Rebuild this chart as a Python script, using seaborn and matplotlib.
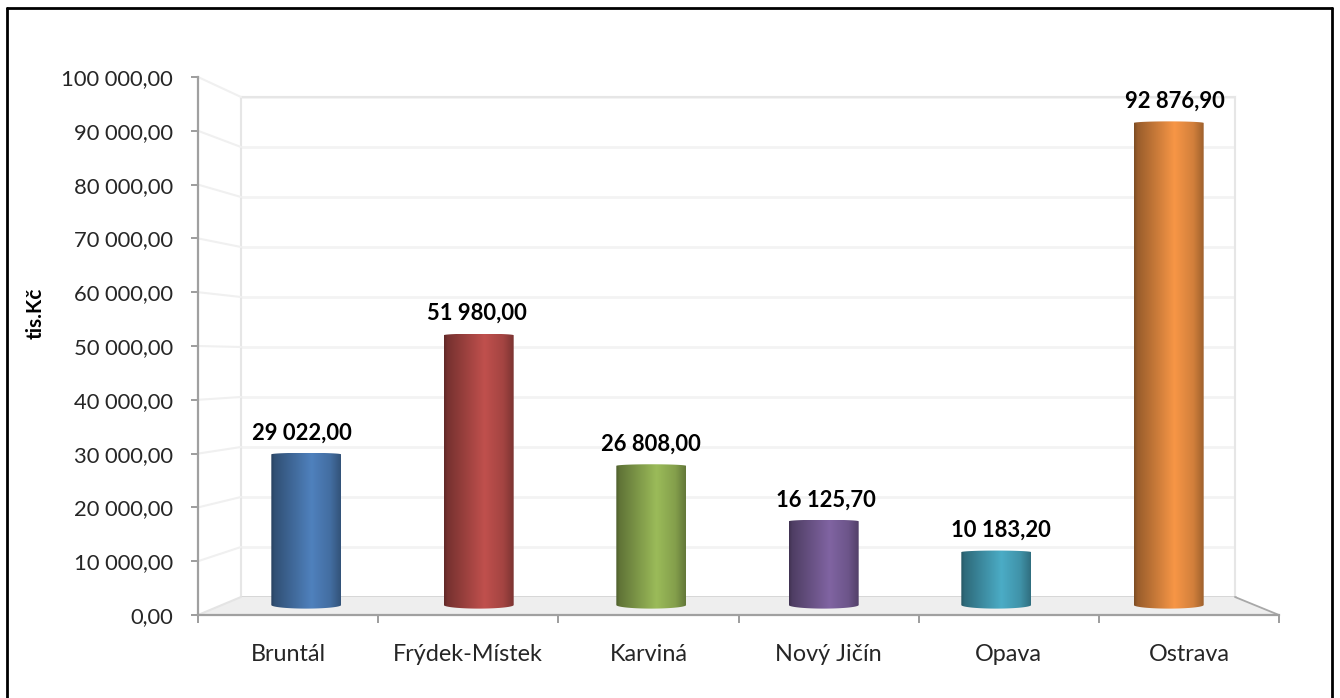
import numpy as np
import matplotlib
matplotlib.use("Agg")
import matplotlib.pyplot as plt
from matplotlib.colors import to_rgb
from matplotlib.lines import Line2D
from matplotlib.patches import Polygon, PathPatch
from matplotlib.path import Path
from matplotlib.transforms import IdentityTransform
import seaborn as sns

W, H = 1340, 698

okresy = ["Bruntál", "Frýdek-Místek", "Karviná", "Nový Jičín", "Opava", "Ostrava"]
hodnoty = [29022.00, 51980.00, 26808.00, 16125.70, 10183.20, 92876.90]
barvy = ["#4F81BD", "#C0504D", "#9BBB59", "#8064A2", "#4BACC6", "#F79646"]
y_ticks = [0, 10000, 20000, 30000, 40000, 50000, 60000, 70000, 80000, 90000, 100000]
y_nazev = "tis.Kč"

sns.set_theme(style="white")
plt.rcParams["font.family"] = ["Lato", "DejaVu Sans"]


def cesky(v):
    return f"{v:,.2f}".replace(",", " ").replace(".", ",")


def pozice(x0, y_top, x1, y_bot):
    # pixely obrazku (y shora) -> souradnice figury
    return [x0 / W, 1 - y_bot / H, (x1 - x0) / W, (y_bot - y_top) / H]


def fig_xy(x, y):
    return x / W, 1 - y / H


fig = plt.figure(figsize=(W / 100, H / 100), dpi=100, facecolor="white")

# zadni stena
ax_back = fig.add_axes(pozice(241, 97, 1235, 597), facecolor="white", zorder=1)
ax_back.set_xlim(0, 1)
ax_back.set_ylim(0, 100000)
ax_back.set_yticks(y_ticks)
ax_back.set_xticks([])
ax_back.tick_params(left=False, labelleft=False)
ax_back.grid(axis="y", color="#f3f3f3", lw=2)
for s in ax_back.spines.values():
    s.set_color("#e6e6e6")
    s.set_linewidth(1.5)
ax_back.spines["bottom"].set_color("#d4d4d4")
ax_back.spines["bottom"].set_linewidth(2)

# podlaha a bocni linky
fig.add_artist(Polygon([fig_xy(198, 615), fig_xy(241, 597), fig_xy(1235, 597), fig_xy(1279, 615)],
                       closed=True, transform=fig.transFigure, fc="#eeeeee", ec="none", zorder=1.5))
fig.add_artist(Line2D(*zip(fig_xy(1235, 597), fig_xy(1279, 615)), color="#a8a8a8", lw=1.3, zorder=1.6))
for t in y_ticks:
    p = t / 100000
    fig.add_artist(Line2D(*zip(fig_xy(198, 615 - 538 * p), fig_xy(241, 597 - 500 * p)),
                          color="#f0f0f0" if t else "#e4e4e4", lw=1.5, zorder=1.6))

# predni osy
ax = fig.add_axes(pozice(198, 77, 1279, 615), facecolor="none", zorder=2)
ax.set_xlim(0, len(okresy))
ax.set_ylim(0, 100000)
ax.set_yticks(y_ticks)
ax.set_yticklabels([cesky(t) for t in y_ticks], fontsize=15.8, color="#262626")
ax.set_xticks(range(len(okresy) + 1))
ax.set_xticklabels([])
ax.set_xticks(np.arange(len(okresy)) + 0.5, okresy, minor=True, fontsize=16.8, color="#262626")
ax.tick_params(axis="x", which="major", length=6, width=1.2, color="#8c8c8c", bottom=True)
ax.tick_params(axis="x", which="minor", length=0, pad=21, bottom=False)
ax.tick_params(axis="y", length=5, width=1.2, color="#8c8c8c", left=True, pad=13)
ax.set_ylabel(y_nazev, fontsize=15, fontweight="bold", color="black")
ax.yaxis.set_label_coords(-0.141, 0.561)
for s in ["top", "right"]:
    ax.spines[s].set_visible(False)
for s in ["left", "bottom"]:
    ax.spines[s].set_color("#a0a0a0")
    ax.spines[s].set_linewidth(1.6)

# sloupce
ax_bars = fig.add_axes(pozice(220, 86, 1255, 605), facecolor="none", zorder=3)
sns.barplot(x=okresy, y=hodnoty, hue=okresy, palette=barvy, width=0.405, legend=False,
            saturation=1, ax=ax_bars)
ax_bars.set_ylim(0, 100000)
ax_bars.set_xlim(-0.5, len(okresy) - 0.5)
ax_bars.axis("off")
fig.canvas.draw()

gx = np.linspace(0, 1, 256)
stin = np.interp(gx, [0, 0.05, 0.3, 0.58, 0.85, 1], [0.5, 0.62, 0.8, 1.0, 0.85, 0.64])
for i, (patch, barva, v) in enumerate(zip(ax_bars.patches, barvy, hodnoty)):
    bb = patch.get_window_extent()
    patch.set_visible(False)
    a, b_top, b_bot = bb.width / 2, 1.6, 3.6
    cx = (bb.x0 + bb.x1) / 2
    t = np.linspace(0, np.pi, 40)
    horni = np.c_[cx + a * np.cos(t), bb.y1 + b_top * np.sin(t)]
    dolni = np.c_[cx - a * np.cos(t), bb.y0 - b_bot * np.sin(t)]
    obrys = Path(np.r_[horni, dolni, horni[:1]], closed=False)
    klip = PathPatch(obrys, transform=IdentityTransform(), fc="none", ec="none")
    ax_bars.add_patch(klip)
    grad = (stin[None, :, None] * np.array(to_rgb(barva))[None, None, :]).clip(0, 1)
    x_l, y_d = ax_bars.transData.inverted().transform((bb.x0, bb.y0 - b_bot))
    x_r, y_u = ax_bars.transData.inverted().transform((bb.x1, bb.y1 + b_top))
    im = ax_bars.imshow(grad, extent=(x_l, x_r, y_d, y_u), aspect="auto", zorder=3, interpolation="bilinear")
    im.set_clip_box(fig.bbox)
    im.set_clip_path(klip)
    ax_bars.annotate(cesky(v), (i, v), xytext=((i - 2) * 1.6, 15.5), textcoords="offset points",
                     ha="center", va="center", fontsize=15.8, fontweight="bold", color="black",
                     annotation_clip=False, zorder=5)
ax_bars.set_ylim(0, 100000)
ax_bars.set_xlim(-0.5, len(okresy) - 0.5)

# ramecek (spodni hrana je mimo obrazek)
for a, b in [((7, 698), (7, 8)), ((7, 8), (1332, 8)), ((1332, 8), (1332, 698))]:
    fig.add_artist(Line2D(*zip(fig_xy(*a), fig_xy(*b)), color="black", lw=2, zorder=10))

fig.savefig("out.png", dpi=100)
